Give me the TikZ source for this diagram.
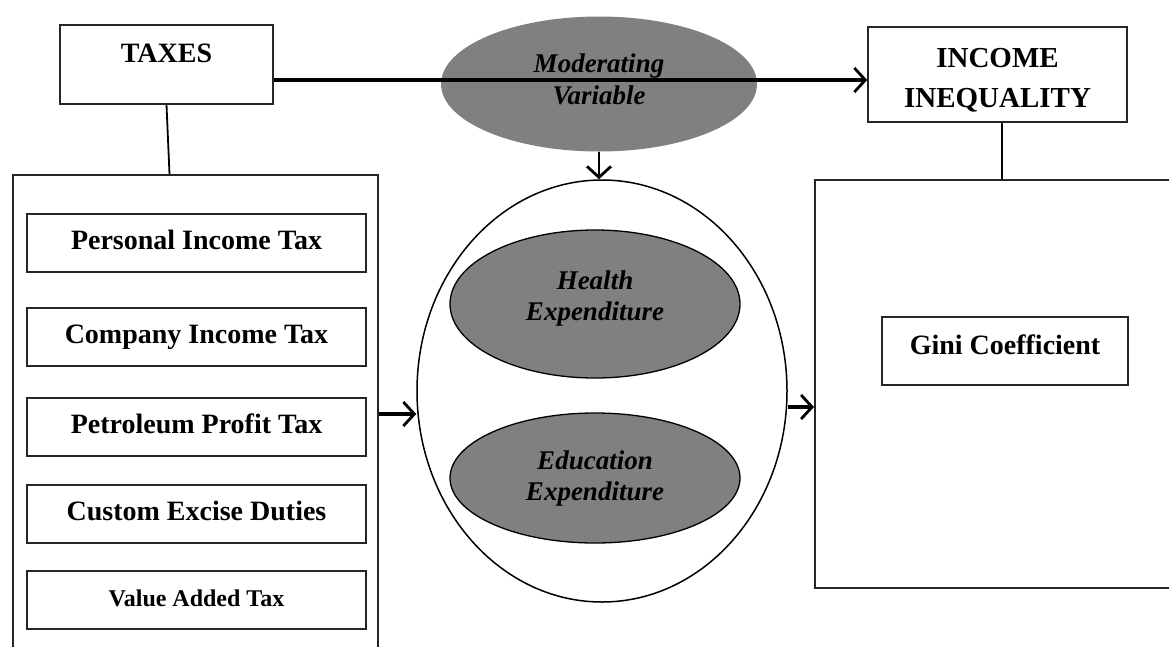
\documentclass[tikz,border=0pt]{standalone}
\usepackage{fontspec}
\setmainfont{Liberation Serif}
\usetikzlibrary{arrows.meta,shapes.geometric}
\tikzset{
  box/.style={draw=black!85, line width=1.5pt, rectangle, inner sep=0pt, font=\fontsize{28}{32}\selectfont\bfseries},
  taxbox/.style={box, minimum width=339pt, minimum height=58pt, text height=20pt, text depth=8pt},
  bigbox/.style={draw=black!85, line width=2pt, rectangle, inner sep=0pt},
  grayell/.style={ellipse, fill=black!50, draw=black, line width=1.3pt, inner sep=0pt},
  elltext/.style={inner sep=0pt, align=center, font=\fontsize{27}{32}\selectfont\bfseries\itshape},
  link/.style={draw=black, line width=1.8pt},
  arr/.style={draw=black, line width=3.4pt, -{Straight Barb[length=11pt,width=24pt,line width=2.8pt]}}
}
\begin{document}
\begin{tikzpicture}[x=1pt,y=-1pt]
\useasboundingbox (0,0) rectangle (1169,646);
\fill[white] (0,0) rectangle (1169,646);
\clip (0,0) rectangle (1169,646);
% top boxes
\node[box, minimum width=213pt, minimum height=79pt, text height=20pt, text depth=24pt] (taxes) at (166.5,64.5) {TAXES};
\node[box, minimum width=259pt, minimum height=95pt] (income) at (997.5,74.5) {};
\node[inner sep=0pt, align=center, font=\fontsize{29}{40}\selectfont\bfseries] (incomet) at (997.5,80) {INCOME\\INEQUALITY};
% moderating ellipse
\node[grayell, draw=none, minimum width=316pt, minimum height=135pt] (mod) at (599,84) {};
\node[elltext] (modt) at (599,79.5) {Moderating\\Variable};
% left big box with taxes
\node[bigbox, minimum width=365pt, minimum height=525pt] (lbox) at (195.5,437.5) {};
\node[taxbox] (pit) at (196.5,243) {Personal Income Tax};
\node[taxbox] (cit) at (196.5,337) {Company Income Tax};
\node[taxbox] (ppt) at (196.5,427) {Petroleum Profit Tax};
\node[taxbox] (ced) at (196.5,514) {Custom Excise Duties};
\node[taxbox, font=\fontsize{24}{28}\selectfont\bfseries] (vat) at (196.5,600) {Value Added Tax};
% central ellipse
\node[ellipse, draw=black, line width=1.5pt, minimum width=370pt, minimum height=422pt, inner sep=0pt] (big) at (602,391) {};
\node[grayell, minimum width=290pt, minimum height=148pt] (health) at (595,304) {};
\node[elltext] (healtht) at (595,298) {Health\\[-1pt]Expenditure};
\node[grayell, minimum width=290pt, minimum height=130pt] (educ) at (595,478) {};
\node[elltext] (educt) at (595,478) {Education\\[-1pt]Expenditure};
% right big box
\node[bigbox, minimum width=385pt, minimum height=408pt] (rbox) at (1007.5,384) {};
\node[box, minimum width=246pt, minimum height=68pt, text height=20pt, text depth=14pt] (gini) at (1005,351) {Gini Coefficient};
% connectors
\draw[link] (taxes.south) -- ([xshift=3pt]taxes.south |- lbox.north);
\draw[link] ([xshift=4.5pt]income.south) -- ([xshift=4.5pt]income.south |- rbox.north);
\draw[arr] ([yshift=-15.5pt]taxes.east) -- ([yshift=-15.5pt]taxes.east -| income.west);
\draw[arr, line width=2.6pt] (mod.south) -- (mod.south |- big.north);
\draw[arr] ([yshift=-23pt]big.west -| lbox.east) -- ([yshift=-23pt]big.west);
\draw[arr] ([yshift=-16pt]big.east) -- ([yshift=-16pt]big.east -| rbox.west);
\end{tikzpicture}
\end{document}
